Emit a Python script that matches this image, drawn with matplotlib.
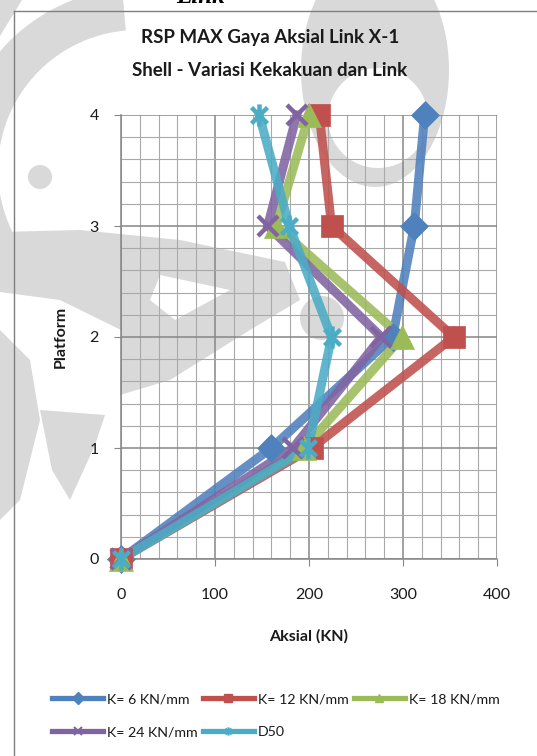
import matplotlib
matplotlib.use("Agg")
import matplotlib.pyplot as plt
import numpy as np
from matplotlib.lines import Line2D
from matplotlib.path import Path
from matplotlib.patches import Polygon, Circle
from matplotlib.ticker import MultipleLocator

# ---- data -------------------------------------------------------------
platform = [0, 1, 2, 3, 4]
k6 = [0, 160, 289, 312, 323]
k12 = [0, 203, 354, 224, 211]
k18 = [0, 195, 299, 165, 200]
k24 = [0, 183, 277, 156, 187]
d50 = [0, 199, 224, 179, 147]

labels = ["K= 6 KN/mm", "K= 12 KN/mm", "K= 18 KN/mm", "K= 24 KN/mm", "D50"]
colors = ["#4F81BD", "#C0504D", "#9BBB59", "#8064A2", "#4BACC6"]

x_ticks = [0, 100, 200, 300, 400]
y_ticks = [0, 1, 2, 3, 4]

plt.rcParams["font.family"] = ["Lato", "DejaVu Sans"]

W, H = 537, 756
fig = plt.figure(figsize=(W / 100, H / 100), dpi=100)
fig.patch.set_facecolor("white")

# ---- background emblem (pixel coordinates, y downwards) ---------------
bg = fig.add_axes([0, 0, 1, 1], zorder=0)
bg.set_xlim(0, W)
bg.set_ylim(H, 0)
bg.axis("off")
wm = "#d9d9d9"


def band(cx, cy, r_out, w, a0, a1, n=80):
    a = np.radians(np.linspace(a0, a1, n))
    outer = np.c_[cx + r_out * np.cos(a), cy - r_out * np.sin(a)]
    r_in = r_out - w
    inner = np.c_[cx + r_in * np.cos(a[::-1]), cy - r_in * np.sin(a[::-1])]
    return np.vstack([outer, inner])


def ellipse_pts(cx, cy, a, b, n=100):
    t = np.linspace(0, 2 * np.pi, n)
    return np.c_[cx + a * np.cos(t), cy + b * np.sin(t)]


# left crescent with its dot
bg.add_patch(Polygon(band(138, 170, 182, 42, 95, 206), color=wm, lw=0))
bg.add_patch(Polygon([(0, 0), (22, 0), (0, 36)], color=wm, lw=0))
bg.add_patch(Circle((40, 177), 12, color=wm, lw=0))
# upper right ring
bg.add_patch(Polygon(ellipse_pts(375, 70, 74, 117), color=wm, lw=0))
bg.add_patch(Polygon(ellipse_pts(378, 118, 50, 50), color="white", lw=0))
# left swoosh reaching into the plot
bg.add_patch(Polygon([(0, 232), (80, 230), (180, 240), (285, 262), (300, 300),
                      (250, 330), (170, 380), (120, 395), (121, 330),
                      (60, 300), (0, 292)], color=wm, lw=0))
bg.add_patch(Polygon([(160, 275), (230, 290), (175, 320), (150, 300)],
                     color="white", lw=0))
bg.add_patch(Polygon([(40, 410), (105, 415), (95, 445), (70, 500),
                      (52, 470)], color=wm, lw=0))
bg.add_patch(Polygon([(0, 330), (30, 360), (40, 420), (20, 500),
                      (0, 520)], color=wm, lw=0))
bg.add_patch(Circle((322, 318), 22, color=wm, lw=0))

# ---- chart frame ------------------------------------------------------
frame_c = "#7f7f7f"
fig.add_artist(Line2D([14 / W, 14 / W], [0, 1 - 11 / H], color=frame_c, lw=1.0))
fig.add_artist(Line2D([14 / W, 1], [1 - 11 / H, 1 - 11 / H], color=frame_c, lw=1.0))

# heading text above the chart (partly out of view)
fig.text(176 / W, 1 - 3 / H, "Link", family="Liberation Serif", weight="bold",
         style="italic", fontsize=18, va="baseline", ha="left")

# ---- main axes --------------------------------------------------------
ax = fig.add_axes([121 / W, 1 - 559 / H, 376 / W, 444 / H], zorder=1)
ax.patch.set_alpha(0)
ax.set_xlim(0, 400)
ax.set_ylim(0, 4)
ax.set_xticks(x_ticks)
ax.set_yticks(y_ticks)
ax.xaxis.set_minor_locator(MultipleLocator(20))
ax.yaxis.set_minor_locator(MultipleLocator(0.2))
ax.grid(which="major", color="#868686", lw=1.1, zorder=0)
ax.grid(which="minor", color="#a9a9a9", lw=0.8, zorder=0)
ax.set_axisbelow(True)
for s in ["top", "right"]:
    ax.spines[s].set_visible(False)
for s in ["left", "bottom"]:
    ax.spines[s].set_color("#868686")
    ax.spines[s].set_linewidth(1.1)
ax.tick_params(which="major", direction="out", length=5, color="#868686",
               labelsize=11.5, labelcolor="#1a1a1a")
ax.tick_params(which="minor", length=0)
ax.tick_params(axis="x", pad=16)
ax.tick_params(axis="y", pad=11)

star = Path([(0, -1), (0, 1), (-0.72, -0.72), (0.72, 0.72), (-0.72, 0.72), (0.72, -0.72)],
            [Path.MOVETO, Path.LINETO, Path.MOVETO, Path.LINETO, Path.MOVETO, Path.LINETO])

series = [k6, k12, k18, k24, d50]
markers = ["D", "s", "^", "x", star]
msizes = [14, 16, 17, 15, 16]
handles = []
for vals, c, m, ms, lab in zip(series, colors, markers, msizes, labels):
    stroke_marker = (m == "x") or (m is star)
    ax.plot(vals, platform, color=c, lw=6.5, alpha=0.88, solid_joinstyle="miter",
            zorder=3, clip_on=False)
    if stroke_marker:
        ax.plot(vals, platform, ls="none", marker=m, ms=ms, mew=3.2, color=c,
                zorder=4, clip_on=False)
        h = Line2D([], [], color=c, lw=3.8, marker=m, ms=6, mew=1.5)
    else:
        ax.plot(vals, platform, ls="none", marker=m, ms=ms, mfc=c, mec=c, mew=0.5,
                zorder=4, clip_on=False)
        h = Line2D([], [], color=c, lw=3.8, marker=m, ms=6, mfc=c, mec=c)
    handles.append(h)

# ---- titles and axis names -------------------------------------------
fig.text(270 / W, 1 - 38 / H, "RSP MAX Gaya Aksial Link X-1", ha="center",
         va="center", fontsize=13.5, weight="bold", color="#1a1a1a")
fig.text(270 / W, 1 - 71 / H, "Shell - Variasi Kekakuan dan Link", ha="center",
         va="center", fontsize=13.5, weight="bold", color="#1a1a1a")
fig.text(309 / W, 1 - 636 / H, "Aksial (KN)", ha="center", va="center",
         fontsize=11.5, weight="bold", color="#1a1a1a")
fig.text(61 / W, 1 - 337 / H, "Platform", ha="center", va="center",
         rotation=90, fontsize=11.5, weight="bold", color="#1a1a1a")

# ---- legend (row-wise: three entries on the first row) ---------------
order = [0, 3, 1, 4, 2]
leg = fig.legend([handles[i] for i in order], [labels[i] for i in order],
                 ncol=3, loc="upper left",
                 bbox_to_anchor=(52 / W, 1 - 693 / H), frameon=False,
                 fontsize=10.2, handlelength=3.6, handletextpad=0.3,
                 columnspacing=0.35, labelspacing=1.5, borderpad=0,
                 borderaxespad=0)
for t in leg.get_texts():
    t.set_color("#1a1a1a")

fig.savefig("out.png", dpi=100)
